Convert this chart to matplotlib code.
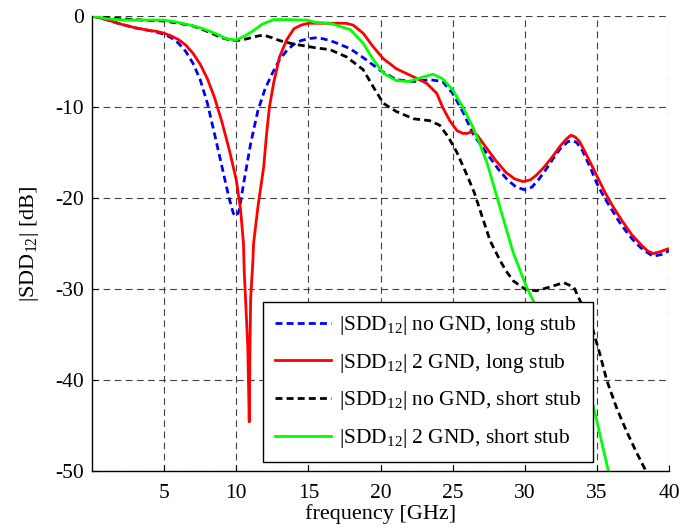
import matplotlib
matplotlib.use("Agg")
import matplotlib.pyplot as plt

plt.rcParams['font.family'] = ['Liberation Serif', 'DejaVu Serif']
plt.rcParams['mathtext.fontset'] = 'custom'
plt.rcParams['mathtext.rm'] = 'Liberation Serif'
plt.rcParams['mathtext.it'] = 'Liberation Serif:italic'
plt.rcParams['axes.unicode_minus'] = False

# |SDD12| no GND, long stub
f_blue = [0, 1, 2, 3, 4, 5, 5.5, 6, 6.5, 7, 7.5, 8, 8.5, 9, 9.5, 9.8, 10.0, 10.2, 10.5, 11, 11.5,
          12, 12.5, 13, 13.5, 14, 14.5, 15, 15.5, 16, 16.5, 17, 17.9, 19, 20, 21.1, 22.3, 23.4,
          24.3, 25, 25.7, 26.4, 27, 27.6, 28.2, 28.8, 29.4, 30, 30.5, 31, 31.5, 32, 32.5, 33,
          33.3, 33.6, 34, 34.5, 35, 35.5, 36, 36.5, 37, 37.5, 38, 38.5, 38.9, 39.5, 40]
sdd_blue = [0, -0.4, -0.9, -1.3, -1.6, -2.0, -2.4, -3.0, -3.9, -5.2, -7.0, -9.6, -13.0, -16.5,
            -20.0, -21.7, -22.0, -21.4, -18.5, -14.0, -10.4, -8.0, -6.3, -4.8, -3.8, -3.1, -2.7,
            -2.5, -2.4, -2.5, -2.7, -3.0, -3.6, -4.8, -6.0, -7.0, -7.2, -7.0, -7.2, -8.5, -10.5,
            -12.9, -14.3, -15.6, -16.9, -18.0, -18.8, -19.1, -18.8, -17.9, -16.8, -15.6, -14.5,
            -13.8, -13.7, -13.9, -14.8, -16.5, -18.4, -19.9, -21.2, -22.5, -23.6, -24.6, -25.4,
            -26.0, -26.4, -26.2, -25.8]

# |SDD12| 2 GND, long stub
f_red = [0, 1, 2, 3, 4, 4.5, 5, 5.5, 6, 6.5, 7, 7.5, 8, 8.5, 9, 9.5, 10, 10.3, 10.5, 10.55, 10.65,
         10.8, 10.9, 10.95, 11.0, 11.15, 11.2, 11.5, 11.9, 12.1, 12.3, 12.6, 13.0, 13.5, 14,
         14.5, 15, 16, 17, 17.6, 18.1, 18.8, 19.5, 20.2, 21.1, 22.3, 23.2, 23.9, 24.3, 24.8,
         25.3, 25.7, 26.0, 26.4, 26.7, 27.3, 28.0, 28.7, 29.3, 29.9, 30.4, 30.8, 31.4, 32.0,
         32.5, 32.9, 33.2, 33.5, 33.8, 34.2, 34.7, 35.1, 35.6, 36.1, 36.7, 37.4, 38.1, 38.5,
         38.9, 39.4, 39.9]
sdd_red = [0, -0.4, -0.9, -1.3, -1.6, -1.7, -1.9, -2.2, -2.6, -3.2, -4.1, -5.3, -6.9, -9.0,
           -11.6, -14.6, -18.0, -21.3, -25.0, -28.0, -31.3, -36.4, -44.6, -36.4, -31.0, -27.0,
           -25.0, -21.0, -16.6, -13.0, -10.0, -7.3, -4.5, -2.6, -1.4, -1.0, -0.8, -0.8, -0.8,
           -0.8, -1.0, -1.9, -3.4, -4.7, -5.8, -6.7, -7.4, -8.5, -10.0, -11.5, -12.6, -12.9,
           -12.9, -12.7, -13.1, -14.4, -15.9, -17.2, -17.9, -18.2, -18.0, -17.5, -16.5, -15.3,
           -14.2, -13.5, -13.1, -13.3, -13.8, -15.0, -16.6, -17.9, -19.5, -20.9, -22.4, -24.0,
           -25.2, -25.8, -26.1, -25.9, -25.6]

# |SDD12| no GND, short stub
f_black = [0, 1, 2, 3, 4, 5, 6, 7, 8, 9, 9.5, 10, 10.5, 11, 11.5, 11.9, 12.5, 13, 13.5, 14,
           14.8, 15.5, 16.5, 17.65, 18.8, 19.5, 20.2, 21.1, 22.3, 23.4, 24.1, 24.7, 25.3, 26.0,
           26.5, 27.1, 27.6, 28.3, 28.7, 29.2, 30.0, 30.8, 31.7, 32.7, 33.4, 33.9, 34.6, 35.2,
           35.7, 36.4, 37.05, 37.7, 38.4]
sdd_black = [0, -0.2, -0.3, -0.4, -0.5, -0.55, -0.8, -1.1, -1.7, -2.4, -2.6, -2.7, -2.6, -2.4,
             -2.2, -2.1, -2.4, -2.7, -2.9, -3.1, -3.3, -3.5, -3.7, -4.5, -5.9, -7.8, -9.6,
             -10.5, -11.3, -11.5, -12.0, -13.3, -15.0, -17.5, -19.4, -22.3, -24.7, -26.9,
             -28.0, -29.1, -30.0, -30.2, -29.8, -29.3, -29.8, -31.5, -33.8, -37.1, -40.1,
             -43.2, -45.6, -47.8, -50.0]

# |SDD12| 2 GND, short stub
f_green = [0, 1, 2.2, 3, 4, 4.9, 5.8, 6.8, 7.5, 8.2, 8.8, 9.3, 10.0, 10.7, 11.2, 11.8, 12.6,
           13.5, 14.9, 15.5, 16.5, 17.9, 18.8, 19.5, 20.2, 21.1, 22.0, 22.96, 23.65, 24.3,
           25.0, 25.7, 26.4, 26.8, 27.4, 28.35, 29.2, 30.1, 30.9, 31.5, 32, 32.5, 33, 33.5, 34,
           34.55, 35.0, 35.4, 35.8]
sdd_green = [0, -0.3, -0.44, -0.45, -0.45, -0.45, -0.65, -1.0, -1.3, -1.7, -2.1, -2.5, -2.65,
             -2.1, -1.6, -0.9, -0.4, -0.4, -0.45, -0.7, -0.8, -1.5, -3.0, -4.8, -6.3, -7.1,
             -7.2, -6.7, -6.4, -6.9, -8.1, -10.0, -12.2, -13.7, -16.2, -21.4, -26.0, -29.7,
             -32.3, -33.8, -34.8, -35.6, -36.5, -37.8, -39.4, -41.6, -44.5, -47.3, -50.0]

labels = [r'|SDD$_{12}$| no GND, long stub',
          r'|SDD$_{12}$| 2 GND, long stub',
          r'|SDD$_{12}$| no GND, short stub',
          r'|SDD$_{12}$| 2 GND, short stub']
xticks = [5, 10, 15, 20, 25, 30, 35, 40]
yticks = [0, -10, -20, -30, -40, -50]

fig = plt.figure(figsize=(6.96, 5.29), dpi=100)
ax = fig.add_axes([0.1322, 0.1096, 0.8290, 0.8602])

ax.plot(f_blue, sdd_blue, color='#0000ff', lw=2, ls=(0, (2.5, 1.5)), label=labels[0])
ax.plot(f_red, sdd_red, color='#ff0000', lw=2, label=labels[1])
ax.plot(f_black, sdd_black, color='black', lw=2, ls=(0, (2.5, 1.5)), label=labels[2])
ax.plot(f_green, sdd_green, color='#00ff00', lw=2, label=labels[3])

ax.set_xlim(0, 40)
ax.set_ylim(-50, 0)
ax.set_xticks(xticks)
ax.set_yticks(yticks)
ax.set_xticklabels([str(t) for t in xticks])
ax.set_yticklabels([str(t) for t in yticks])
ax.tick_params(direction='in', length=4, labelsize=15.5, width=0.8)
ax.tick_params(axis='x', pad=9)
ax.tick_params(axis='y', pad=6)

ax.grid(True, color='#404040', lw=0.8, ls=(0, (6, 4)))
ax.set_axisbelow(True)
for s in ['top', 'right']:
    ax.spines[s].set_visible(False)
for s in ['left', 'bottom']:
    ax.spines[s].set_linewidth(1.0)

ax.set_xlabel('frequency [GHz]', fontsize=16, labelpad=1)
ax.set_ylabel(r'|SDD$_{12}$| [dB]', fontsize=16, labelpad=10)

leg = ax.legend(loc='lower left', bbox_to_anchor=(0.296, 0.02), fontsize=15.5,
                fancybox=False, framealpha=1, edgecolor='black', handlelength=2.6,
                labelspacing=0.68, borderpad=0.55, handletextpad=0.4, borderaxespad=0)
leg.get_frame().set_linewidth(1.0)

fig.savefig('out.png', dpi=100)
